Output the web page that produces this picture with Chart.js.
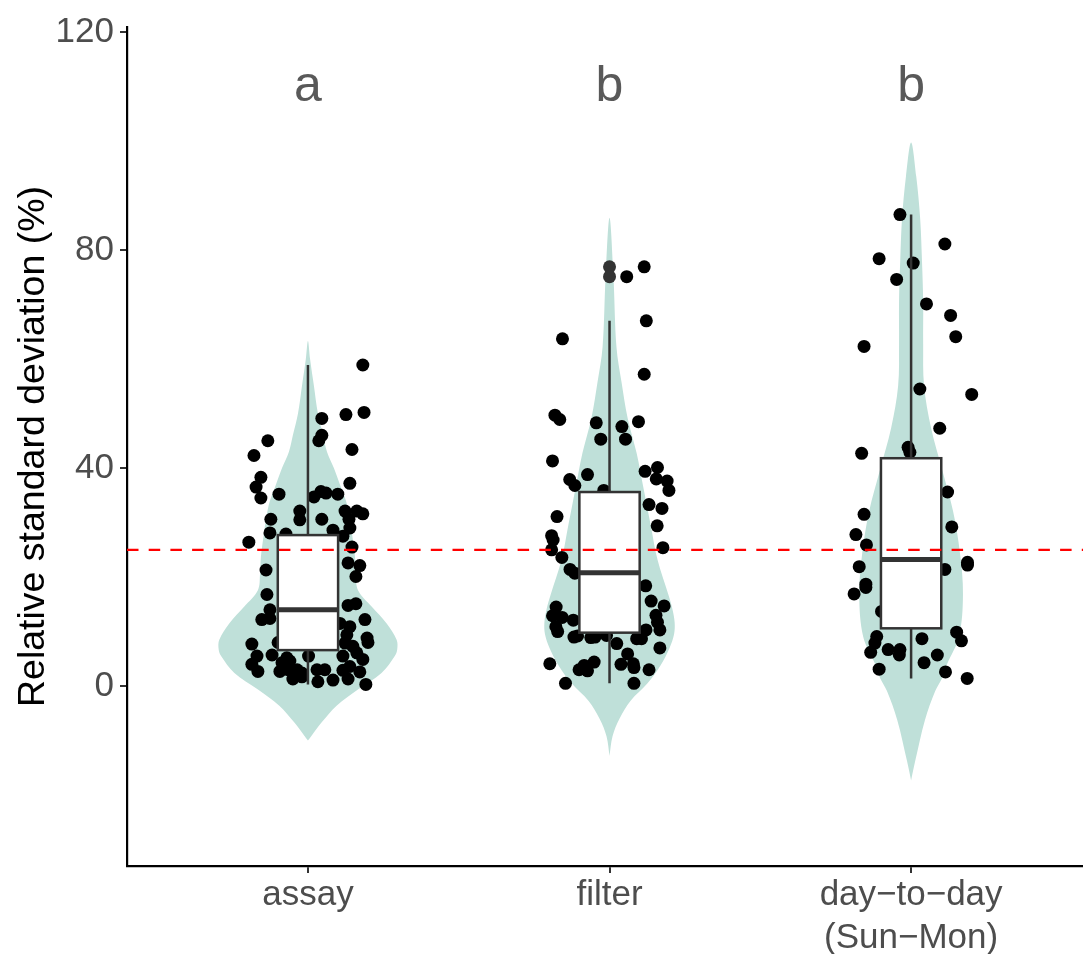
<!DOCTYPE html>
<html>
<head>
<meta charset="utf-8">
<script src="https://cdn.jsdelivr.net/npm/chart.js@4/dist/chart.umd.min.js"></script>
<style>
  html, body { margin: 0; padding: 0; background: #ffffff; }
  #c { display: block; }
</style>
</head>
<body>
<canvas id="c" width="1083" height="954"></canvas>
<script>
// ---- categories and axis ticks ----
const categories = ['assay', 'filter', ['day\u2212to\u2212day', '(Sun\u2212Mon)']];
const catPos = [1, 2, 3];
const yTicks = [0, 40, 80, 120];
const groupLetters = ['a', 'b', 'b'];
const refValue = 25;

// ---- jittered observations (x = category position incl. jitter, y = RSD %) ----
const assayX = [1.182,1.126,1.186,1.046,1.046,1.036,0.867,0.821,1.146,0.844,0.828,0.844,0.904,1.139,1.043,1.060,1.099,1.020,1.123,1.162,1.182,0.973,0.973,0.877,1.046,1.136,1.139,1.083,0.874,0.927,0.804,1.116,1.146,1.133,1.172,1.159,0.861,0.864,0.874,0.874,0.847,1.133,1.159,1.189,0.814,0.831,0.814,0.834,0.881,1.139,1.129,1.123,1.149,1.162,1.182,1.196,1.199,1.116,1.139,1.116,1.172,1.133,1.192,1.106,0.914,0.940,0.934,0.907,0.964,0.980,0.950,0.980,0.930,1.002,1.030,1.056,1.033,1.083,0.901];
const assayY = [58.9,49.8,50.2,49.1,46.0,45.0,45.0,42.3,43.4,38.3,36.5,34.5,35.2,37.2,35.7,35.4,35.2,34.7,32.1,32.1,31.6,32.1,30.5,30.6,30.6,30.6,29.0,28.6,28.1,27.9,26.4,27.5,25.5,22.6,22.1,20.1,21.3,16.8,14.0,12.4,12.2,14.8,15.1,12.2,7.7,5.5,4.0,2.7,5.7,10.9,9.4,7.9,7.3,6.1,4.9,8.8,8.0,5.5,3.6,2.9,2.6,1.3,0.3,11.5,4.3,4.6,3.0,2.7,3.0,2.4,1.3,1.7,5.2,5.5,3.0,3.0,0.8,1.1,8.0];

const filterX = [2.115,2.057,2.122,1.844,2.115,1.819,1.835,1.956,2.041,2.096,1.971,2.053,1.811,1.927,1.868,1.885,2.118,2.159,2.155,2.191,2.197,1.981,2.131,2.174,2.158,1.826,1.808,1.813,1.808,1.842,2.177,1.869,1.885,2.120,2.138,2.181,1.823,1.811,1.843,1.880,2.154,2.159,2.167,1.822,1.828,2.121,1.882,1.894,1.938,1.952,1.990,2.090,2.106,2.024,2.167,2.060,1.802,1.949,1.899,1.916,1.927,2.038,2.079,2.081,2.131,1.854,2.081];
const filterY = [76.9,75.1,67.0,63.7,57.2,49.7,48.9,48.3,47.6,48.5,45.3,45.3,41.3,38.8,37.9,36.8,39.4,40.1,38.0,37.6,35.9,35.9,33.3,32.6,29.4,31.1,27.6,26.8,25.0,23.6,25.4,21.4,20.7,18.4,15.6,14.7,14.5,12.9,12.6,12.1,13.0,11.7,10.3,10.9,10.0,10.3,9.0,9.2,8.9,9.0,9.3,8.7,8.7,7.8,7.0,5.9,4.1,4.4,3.0,3.8,2.8,4.0,4.1,3.4,3.0,0.5,0.5];
const filterOutliers = [76.9, 75.1];

const dayX = [2.963,3.112,2.894,3.007,2.952,3.051,3.131,3.148,2.844,3.029,3.201,3.095,2.836,2.990,2.996,3.121,2.844,3.135,2.817,2.852,2.828,2.850,2.850,2.811,3.187,3.187,3.112,2.902,2.886,2.880,2.866,2.924,2.963,2.961,2.894,3.036,3.043,3.087,3.151,3.167,3.114,3.186];
const dayY = [86.5,81.1,78.4,77.6,74.6,70.1,68.0,64.1,62.3,54.5,53.5,47.3,42.7,43.8,42.9,35.6,31.5,29.2,27.8,25.9,21.9,18.7,18.1,16.9,22.7,22.2,21.4,13.7,9.1,7.9,6.2,6.7,6.7,5.7,3.1,8.7,4.3,5.7,9.9,8.3,2.6,1.4];

// ---- box statistics: lower whisker, Q1, median, Q3, upper whisker ----
const assayBox  = [0.3, 6.6, 14.0, 27.7, 58.9];
const filterBox = [0.5, 9.8, 20.8, 35.6, 67.0];
const dayBox    = [1.4, 10.6, 23.2, 41.8, 86.5];

// ---- violin outlines: y levels and density half-widths (category units) ----
const assayViolinY = [-10.0,-9.1,-6.7,-3.6,-0.6,2.4,5.5,6.7,8.5,11.5,14.6,17.6,20.5,23.7,28,31,34,37,40,43,46,50,55,60,63.3];
const assayViolinW = [0,0.012,0.045,0.095,0.167,0.244,0.288,0.296,0.294,0.261,0.211,0.166,0.159,0.156,0.146,0.138,0.126,0.106,0.086,0.063,0.050,0.033,0.020,0.007,0];
const filterViolinY = [-12.8,-9.2,-6,-2.7,0.5,3.8,7.0,9.5,11.6,14,16.6,23.2,29.7,36.2,42.7,49.2,55.7,62.2,75.1,85.9];
const filterViolinW = [0,0.010,0.033,0.070,0.126,0.169,0.199,0.214,0.216,0.209,0.196,0.159,0.136,0.113,0.090,0.060,0.040,0.023,0.013,0];
const dayViolinY = [-17.3,-13.9,-6.2,-0.9,1.5,4,9.1,16.8,24.4,32.1,39.7,47.4,55.1,62.8,70.5,78.1,85.8,93.5,99.7];
const dayViolinW = [0,0.013,0.046,0.080,0.103,0.119,0.159,0.172,0.162,0.139,0.103,0.066,0.043,0.040,0.040,0.036,0.030,0.017,0];

// ---- styling ----
const FONT = "'Liberation Sans', Arial, Helvetica, sans-serif";
const VIOLIN_FILL = '#bfe0d9';
const BOX_COLOR = '#333333';
const BOX_HALF = 0.1;

function zipXY(xs, ys) { return xs.map((x, i) => ({ x: x, y: ys[i] })); }

// closed outline: up the right side, back down the left side
function violinOutline(center, ys, ws) {
  const pts = [];
  for (let i = 0; i < ys.length; i++) pts.push({ x: center + ws[i], y: ys[i] });
  for (let i = ys.length - 2; i >= 0; i--) pts.push({ x: center - ws[i], y: ys[i] });
  return pts;
}

function violinDataset(center, ys, ws) {
  return {
    type: 'line',
    data: violinOutline(center, ys, ws),
    backgroundColor: VIOLIN_FILL,
    borderWidth: 0,
    borderColor: 'rgba(0,0,0,0)',
    pointRadius: 0,
    fill: 'shape',
    tension: 0.35,
    showLine: true
  };
}

function pointDataset(xs, ys, color) {
  return {
    type: 'scatter',
    data: zipXY(xs, ys),
    backgroundColor: color,
    borderWidth: 0,
    pointRadius: 6.5,
    pointHoverRadius: 6.5
  };
}

const boxes = [assayBox, filterBox, dayBox];

// boxplots, reference line and group letters drawn over the datasets
const overlay = {
  id: 'overlay',
  afterDatasetsDraw(chart) {
    const { ctx, chartArea, scales: { x, y } } = chart;
    ctx.save();
    ctx.lineCap = 'butt';
    boxes.forEach((b, i) => {
      const c = catPos[i];
      const left = x.getPixelForValue(c - BOX_HALF);
      const right = x.getPixelForValue(c + BOX_HALF);
      const mid = x.getPixelForValue(c);
      const lo = y.getPixelForValue(b[0]);
      const q1 = y.getPixelForValue(b[1]);
      const med = y.getPixelForValue(b[2]);
      const q3 = y.getPixelForValue(b[3]);
      const hi = y.getPixelForValue(b[4]);
      ctx.strokeStyle = BOX_COLOR;
      ctx.lineWidth = 2.5;
      ctx.beginPath();
      ctx.moveTo(mid, q3); ctx.lineTo(mid, hi);
      ctx.moveTo(mid, q1); ctx.lineTo(mid, lo);
      ctx.stroke();
      ctx.fillStyle = '#ffffff';
      ctx.fillRect(left, q3, right - left, q1 - q3);
      ctx.strokeRect(left, q3, right - left, q1 - q3);
      ctx.lineWidth = 5;
      ctx.beginPath();
      ctx.moveTo(left, med); ctx.lineTo(right, med);
      ctx.stroke();
    });

    // threshold line
    const ry = y.getPixelForValue(refValue);
    ctx.strokeStyle = '#ff0000';
    ctx.lineWidth = 2.2;
    ctx.setLineDash([11.5, 10.2]);
    ctx.beginPath();
    ctx.moveTo(chartArea.left, ry);
    ctx.lineTo(chartArea.right, ry);
    ctx.stroke();
    ctx.setLineDash([]);

    // significance letters
    ctx.fillStyle = '#595959';
    ctx.font = '50px ' + FONT;
    ctx.textAlign = 'center';
    ctx.textBaseline = 'alphabetic';
    const ly = y.getPixelForValue(107.3);
    groupLetters.forEach((t, i) => {
      ctx.fillText(t, x.getPixelForValue(catPos[i]), ly);
    });
    ctx.restore();
  }
};

new Chart(document.getElementById('c'), {
  type: 'scatter',
  data: {
    datasets: [
      pointDataset(assayX, assayY, '#000000'),
      pointDataset(filterX, filterY, '#000000'),
      pointDataset(dayX, dayY, '#000000'),
      pointDataset(filterOutliers.map(() => catPos[1]), filterOutliers, BOX_COLOR),
      violinDataset(catPos[0], assayViolinY, assayViolinW),
      violinDataset(catPos[1], filterViolinY, filterViolinW),
      violinDataset(catPos[2], dayViolinY, dayViolinW)
    ]
  },
  options: {
    responsive: false,
    animation: false,
    devicePixelRatio: 1,
    events: [],
    layout: { autoPadding: false, padding: { top: 22, right: 0, bottom: 0, left: 0 } },
    plugins: { legend: { display: false }, tooltip: { enabled: false } },
    scales: {
      x: {
        type: 'linear',
        min: 0.4,
        max: 3.57,
        afterBuildTicks: (s) => { s.ticks = catPos.map(v => ({ value: v })); },
        afterFit: (s) => { s.height = 88; },
        ticks: {
          callback: (v, i) => categories[i],
          color: '#4d4d4d',
          font: { family: FONT, size: 35, lineHeight: 1.22 },
          padding: 1,
          maxRotation: 0,
          autoSkip: false
        },
        grid: { drawOnChartArea: false, drawTicks: true, tickLength: 7, color: BOX_COLOR, lineWidth: 2 },
        border: { display: true, color: '#000000', width: 2.2 }
      },
      y: {
        type: 'linear',
        min: -33,
        max: 120.9,
        afterBuildTicks: (s) => { s.ticks = yTicks.map(v => ({ value: v })); },
        afterFit: (s) => { s.width = 127; },
        ticks: {
          color: '#4d4d4d',
          font: { family: FONT, size: 35 },
          padding: 6
        },
        title: {
          display: true,
          text: 'Relative standard deviation (%)',
          color: '#000000',
          font: { family: FONT, size: 37.5 },
          padding: { top: 11, bottom: 0 }
        },
        grid: { drawOnChartArea: false, drawTicks: true, tickLength: 7, color: BOX_COLOR, lineWidth: 2 },
        border: { display: true, color: '#000000', width: 2.2 }
      }
    }
  },
  plugins: [overlay]
});
</script>
</body>
</html>
